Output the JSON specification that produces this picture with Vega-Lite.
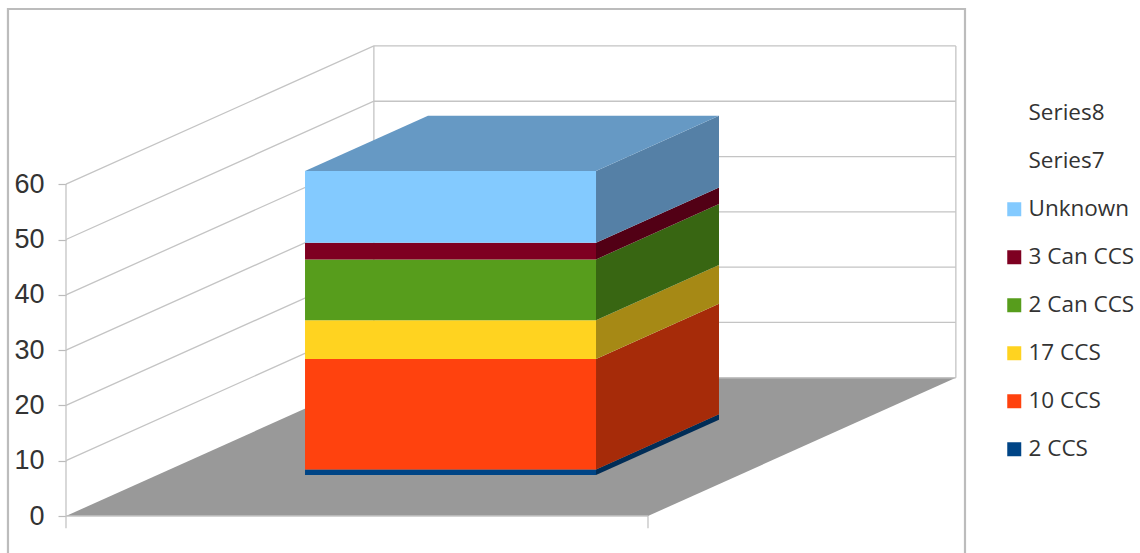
{
  "$schema": "https://vega.github.io/schema/vega-lite/v6.json",
  "width": 1140,
  "height": 553,
  "autosize": {"type": "none"},
  "padding": 0,
  "background": "#ffffff",
  "config": {"view": {"stroke": null}},
  "datasets": {
    "frame": [
      {"x": -9.97, "y": -6.69},
      {"x": -9.97, "y": 91.68},
      {"x": 154.47, "y": 91.68},
      {"x": 154.47, "y": -6.69}
    ],
    "wall": [
      {"line": "g0", "x": 0, "y": 0}, {"line": "g0", "x": 100, "y": 0},
      {"line": "g10", "x": 0, "y": 10}, {"line": "g10", "x": 52.9, "y": 35}, {"line": "g10", "x": 152.9, "y": 35},
      {"line": "g20", "x": 0, "y": 20}, {"line": "g20", "x": 52.9, "y": 45}, {"line": "g20", "x": 152.9, "y": 45},
      {"line": "g30", "x": 0, "y": 30}, {"line": "g30", "x": 52.9, "y": 55}, {"line": "g30", "x": 152.9, "y": 55},
      {"line": "g40", "x": 0, "y": 40}, {"line": "g40", "x": 52.9, "y": 65}, {"line": "g40", "x": 152.9, "y": 65},
      {"line": "g50", "x": 0, "y": 50}, {"line": "g50", "x": 52.9, "y": 75}, {"line": "g50", "x": 152.9, "y": 75},
      {"line": "g60", "x": 0, "y": 60}, {"line": "g60", "x": 52.9, "y": 85}, {"line": "g60", "x": 152.9, "y": 85},
      {"line": "base", "x": 52.9, "y": 25}, {"line": "base", "x": 152.9, "y": 25},
      {"line": "vLeft", "x": 0, "y": -2.2}, {"line": "vLeft", "x": 0, "y": 60},
      {"line": "vBack", "x": 52.9, "y": 25}, {"line": "vBack", "x": 52.9, "y": 85},
      {"line": "vRight", "x": 152.9, "y": 25}, {"line": "vRight", "x": 152.9, "y": 85},
      {"line": "tick", "x": 100, "y": 0}, {"line": "tick", "x": 100, "y": -2.2}
    ],
    "floor": [
      {"y": 0, "left": 0, "right": 100},
      {"y": 25, "left": 52.9, "right": 152.9}
    ],
    "top": [
      {"y": 62.4, "left": 41.07, "right": 91.07},
      {"y": 72.4, "left": 62.2, "right": 112.2}
    ],
    "side": [
      {"series": "2 CCS", "x": 91.07, "low": 7.4, "high": 8.4},
      {"series": "2 CCS", "x": 112.2, "low": 17.4, "high": 18.4},
      {"series": "10 CCS", "x": 91.07, "low": 8.4, "high": 28.4},
      {"series": "10 CCS", "x": 112.2, "low": 18.4, "high": 38.4},
      {"series": "17 CCS", "x": 91.07, "low": 28.4, "high": 35.4},
      {"series": "17 CCS", "x": 112.2, "low": 38.4, "high": 45.4},
      {"series": "2 Can CCS", "x": 91.07, "low": 35.4, "high": 46.4},
      {"series": "2 Can CCS", "x": 112.2, "low": 45.4, "high": 56.4},
      {"series": "3 Can CCS", "x": 91.07, "low": 46.4, "high": 49.4},
      {"series": "3 Can CCS", "x": 112.2, "low": 56.4, "high": 59.4},
      {"series": "Unknown", "x": 91.07, "low": 49.4, "high": 62.4},
      {"series": "Unknown", "x": 112.2, "low": 59.4, "high": 72.4}
    ],
    "front": [
      {"series": "2 CCS", "value": 1, "low": 7.4, "high": 8.4},
      {"series": "10 CCS", "value": 20, "low": 8.4, "high": 28.4},
      {"series": "17 CCS", "value": 7, "low": 28.4, "high": 35.4},
      {"series": "2 Can CCS", "value": 11, "low": 35.4, "high": 46.4},
      {"series": "3 Can CCS", "value": 3, "low": 46.4, "high": 49.4},
      {"series": "Unknown", "value": 13, "low": 49.4, "high": 62.4},
      {"series": "Series7", "value": 0, "low": 62.4, "high": 62.4},
      {"series": "Series8", "value": 0, "low": 62.4, "high": 62.4}
    ]
  },
  "resolve": {"scale": {"color": "independent"}, "axis": {"x": "independent", "y": "independent"}},
  "layer": [
    {
      "data": {"name": "frame"},
      "mark": {"type": "line", "stroke": "#bcbcbc", "strokeWidth": 2.2},
      "encoding": {
        "x": {"field": "x", "type": "quantitative", "sort": null, "scale": {"domain": [-11.34, 184.54], "nice": false, "zero": false}, "axis": null},
        "y": {"field": "y", "type": "quantitative", "scale": {"domain": [-6.69, 93.31], "nice": false, "zero": false},
          "axis": {"orient": "left", "offset": -66, "values": [0, 10, 20, 30, 40, 50, 60], "domain": false, "grid": false, "title": null,
            "tickColor": "#bbbbbb", "tickSize": 8, "tickWidth": 1.2, "labelPadding": 14, "labelFont": "Liberation Sans", "labelFontSize": 27, "labelColor": "#333333"}}
      }
    },
    {
      "data": {"name": "floor"},
      "mark": {"type": "area", "orient": "horizontal", "fill": "#999999"},
      "encoding": {
        "y": {"field": "y", "type": "quantitative", "axis": null},
        "x": {"field": "left", "type": "quantitative", "stack": null, "axis": null},
        "x2": {"field": "right"}
      }
    },
    {
      "data": {"name": "wall"},
      "mark": {"type": "line", "stroke": "#c4c4c4", "strokeWidth": 1.3},
      "encoding": {
        "x": {"field": "x", "type": "quantitative", "sort": null, "axis": null},
        "y": {"field": "y", "type": "quantitative", "axis": null},
        "detail": {"field": "line"}
      }
    },
    {
      "data": {"name": "side"},
      "mark": {"type": "area"},
      "encoding": {
        "x": {"field": "x", "type": "quantitative", "axis": null},
        "y": {"field": "low", "type": "quantitative", "stack": null, "axis": null},
        "y2": {"field": "high"},
        "color": {"field": "series", "type": "nominal", "legend": null,
          "scale": {"domain": ["2 CCS", "10 CCS", "17 CCS", "2 Can CCS", "3 Can CCS", "Unknown"],
            "range": ["#002d57", "#a62b09", "#a68915", "#386612", "#520015", "#5580a6"]}}
      }
    },
    {
      "data": {"name": "top"},
      "mark": {"type": "area", "orient": "horizontal", "fill": "#6699c4"},
      "encoding": {
        "y": {"field": "y", "type": "quantitative", "axis": null},
        "x": {"field": "left", "type": "quantitative", "stack": null, "axis": null},
        "x2": {"field": "right"}
      }
    },
    {
      "data": {"name": "front"},
      "mark": {"type": "rect", "strokeWidth": 0},
      "encoding": {
        "x": {"datum": 41.07, "type": "quantitative", "axis": null},
        "x2": {"datum": 91.07},
        "y": {"field": "low", "type": "quantitative", "axis": null},
        "y2": {"field": "high"},
        "color": {"field": "series", "type": "nominal",
          "scale": {"domain": ["Series8", "Series7", "Unknown", "3 Can CCS", "2 Can CCS", "17 CCS", "10 CCS", "2 CCS"],
            "range": ["#ffffff", "#ffffff", "#83caff", "#7e0021", "#579d1c", "#ffd320", "#ff420e", "#004586"]},
          "legend": {"orient": "none", "legendX": 1003, "legendY": 102, "title": null, "symbolType": "square", "symbolSize": 196, "symbolStrokeWidth": 0,
            "labelFont": "Open Sans", "labelFontSize": 22.5, "labelColor": "#333333", "labelOffset": 3, "rowPadding": 25, "labelLimit": 200}}
      }
    }
  ]
}
